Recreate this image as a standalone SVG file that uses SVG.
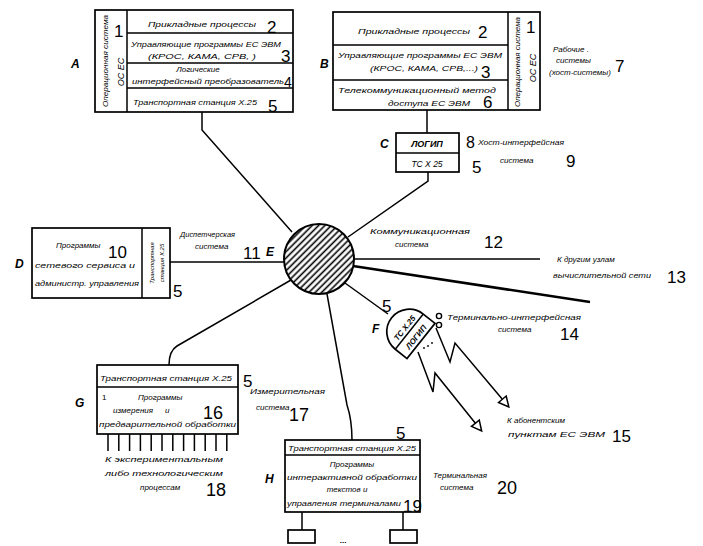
<svg xmlns="http://www.w3.org/2000/svg" width="703" height="546" viewBox="0 0 703 546">
<style>
.t{font-family:"Liberation Sans","DejaVu Sans",sans-serif;font-style:italic;font-size:8px;fill:#000}
.s{font-family:"Liberation Sans","DejaVu Sans",sans-serif;font-style:italic;font-size:7px;fill:#000}
.n{font-family:"Liberation Sans","DejaVu Sans",sans-serif;font-size:17px;fill:#000}
.L{font-family:"Liberation Sans","DejaVu Sans",sans-serif;font-style:italic;font-weight:bold;font-size:12px;fill:#000}
.box{fill:#fff;stroke:#000;stroke-width:1.7}
.ln{fill:none;stroke:#000;stroke-width:1.5}
.m{text-anchor:middle}
</style>
<defs>
<pattern id="hatch" width="4.5" height="4.5" patternUnits="userSpaceOnUse" patternTransform="rotate(-45)">
<rect width="4.5" height="4.5" fill="#fff"/>
<line x1="0" y1="2.2" x2="4.5" y2="2.2" stroke="#000" stroke-width="1.6"/>
</pattern>
<marker id="tri" viewBox="0 0 14 14" refX="3" refY="7" markerWidth="14" markerHeight="14" markerUnits="userSpaceOnUse" orient="auto">
<path d="M2,2 L12,7 L2,12 Z" fill="#fff" stroke="#000" stroke-width="1.5"/>
</marker>
</defs>
<rect width="703" height="546" fill="#fff"/>

<g id="connectors" class="ln">
<path d="M202,112 L202,130 L292,232"/>
<path d="M427,110 L427,133"/>
<path d="M428,172 L428,181 L348,237"/>
<path d="M170,262 L284,262"/>
<path d="M354,259 L540,259"/>
<path d="M353,266 L590,302" stroke-width="2.6"/>
<path d="M345,283 L388,314"/>
<path d="M291,280 L177,346 Q169,351 169,365"/>
<path d="M327,294 L347,405 Q352,420 352,440"/>
<path d="M436,328 L450,362 L455,343 L503,400" marker-end="url(#tri)"/>
<path d="M418,352 L433,392 L435,373 L476,424" marker-end="url(#tri)"/>
</g>

<g id="nodeA">
<rect class="box" x="95" y="10" width="198" height="102"/>
<path class="ln" d="M127,10 V112 M127,33 H293 M127,63 H293 M127,88 H293"/>
<text class="t" x="148" y="27" textLength="108" lengthAdjust="spacingAndGlyphs">Прикладные процессы</text>
<text class="n" x="267" y="33">2</text>
<text class="t" x="131" y="47" textLength="150" lengthAdjust="spacingAndGlyphs">Управляющие программы ЕС ЭВМ</text>
<text class="t" x="148" y="59" textLength="108" lengthAdjust="spacingAndGlyphs">(КРОС, КАМА, СРВ,  )</text>
<text class="n" x="281" y="62">3</text>
<text class="t m" x="198" y="72">Логические</text>
<text class="t" x="132" y="84" textLength="152" lengthAdjust="spacingAndGlyphs">интерфейсный преобразователь</text>
<text class="n" x="284" y="87" style="font-size:14px">4</text>
<text class="t" x="133" y="105" textLength="124" lengthAdjust="spacingAndGlyphs">Транспортная станция Х.25</text>
<text class="n" x="268" y="112">5</text>
<text class="s m" transform="translate(108,61) rotate(-90)" textLength="92" lengthAdjust="spacingAndGlyphs">Операционная система</text>
<text class="t m" transform="translate(124,72) rotate(-90)" style="font-size:9px">ОС ЕС</text>
<text class="n" x="114" y="37">1</text>
<text class="L" x="71" y="68">A</text>
</g>

<g id="nodeB">
<rect class="box" x="333" y="12" width="207" height="98"/>
<path class="ln" d="M508,12 V110 M333,45 H508 M333,80 H508"/>
<text class="t" x="358" y="34" textLength="112" lengthAdjust="spacingAndGlyphs">Прикладные процессы</text>
<text class="n" x="478" y="38">2</text>
<text class="t" x="338" y="58" textLength="164" lengthAdjust="spacingAndGlyphs">Управляющие программы ЕС ЭВМ</text>
<text class="t" x="370" y="71" textLength="108" lengthAdjust="spacingAndGlyphs">(КРОС, КАМА, СРВ,...)</text>
<text class="n" x="481" y="78">3</text>
<text class="t" x="338" y="93" textLength="158" lengthAdjust="spacingAndGlyphs">Телекоммуникационный метод</text>
<text class="t" x="388" y="106" textLength="82" lengthAdjust="spacingAndGlyphs">доступа ЕС ЭВМ</text>
<text class="n" x="483" y="108">6</text>
<text class="s m" transform="translate(520,62) rotate(-90)" textLength="90" lengthAdjust="spacingAndGlyphs">Операционная система</text>
<text class="t m" transform="translate(536,68) rotate(-90)" style="font-size:9px">ОС ЕС</text>
<text class="n" x="526" y="33">1</text>
<text class="L" x="320" y="68">B</text>
<text class="t" x="553" y="52">Рабочие .</text>
<text class="t" x="556" y="63">системы</text>
<text class="t" x="549" y="75">(хост-системы)</text>
<text class="n" x="615" y="72">7</text>
</g>

<g id="nodeC">
<rect class="box" x="396" y="133" width="63" height="39"/>
<path class="ln" d="M396,153 H459"/>
<text class="t m" x="427" y="147" style="font-size:9px;font-weight:bold">ЛОГИП</text>
<text class="t m" x="427" y="167" style="font-size:8.5px">ТС Х 25</text>
<text class="L" x="380" y="148">C</text>
<text class="n" x="466" y="148" style="font-size:16px">8</text>
<text class="t" x="478" y="145" textLength="86" lengthAdjust="spacingAndGlyphs">Хост-интерфейсная</text>
<text class="t" x="500" y="163">система</text>
<text class="n" x="566" y="167">9</text>
<text class="n" x="472" y="173">5</text>
</g>

<g id="nodeD">
<rect class="box" x="32" y="228" width="138" height="70"/>
<path class="ln" d="M142,228 V298"/>
<text class="t" x="56" y="248">Программы</text>
<text class="n" x="108" y="258">10</text>
<text class="t" x="35" y="268" textLength="100" lengthAdjust="spacingAndGlyphs">сетевого сервиса и</text>
<text class="t" x="35" y="286" textLength="104" lengthAdjust="spacingAndGlyphs">администр. управления</text>
<text class="s m" transform="translate(154,263) rotate(-90)" style="font-size:6px">Транспортная</text>
<text class="s m" transform="translate(164,263) rotate(-90)" style="font-size:6px">станция Х.25</text>
<text class="n" x="173" y="297">5</text>
<text class="L" x="15" y="268">D</text>
<text class="t" x="180" y="237" textLength="55" lengthAdjust="spacingAndGlyphs">Диспетчерская</text>
<text class="t" x="195" y="249">система</text>
<text class="n" x="243" y="259">11</text>
</g>

<g id="nodeE">
<circle cx="319" cy="259" r="35" fill="url(#hatch)" stroke="#000" stroke-width="2"/>
<text class="L" x="266" y="256">E</text>
<text class="t" x="370" y="234" textLength="100" lengthAdjust="spacingAndGlyphs">Коммуникационная</text>
<text class="t" x="395" y="247">система</text>
<text class="n" x="484" y="248">12</text>
</g>

<g id="labelNet">
<text class="t" x="557" y="262">К другим узлам</text>
<text class="t" x="553" y="278" textLength="98" lengthAdjust="spacingAndGlyphs">вычислительной сети</text>
<text class="n" x="667" y="283">13</text>
</g>

<g id="nodeF">
<g transform="translate(421,341) rotate(38.5)">
<path class="box" d="M0,-22.5 L-15,-22.5 A22.5,22.5 0 0 0 -15,22.5 L0,22.5 Z"/>
<path class="ln" d="M-15,-22.5 V22.5"/>
<text class="t m" transform="translate(-3.5,0) rotate(-90)" style="font-weight:bold">ЛОГИП</text>
<text class="t m" transform="translate(-18,0) rotate(-90)" style="font-weight:bold">ТС Х.25</text>
</g>
<circle cx="439" cy="316" r="2.6" fill="#fff" stroke="#000" stroke-width="1.4"/>
<circle cx="439" cy="325" r="2.6" fill="#fff" stroke="#000" stroke-width="1.4"/>
<circle cx="424" cy="348" r="0.9"/>
<circle cx="428" cy="346" r="0.9"/>
<circle cx="432" cy="343" r="0.9"/>
<text class="L" x="372" y="333">F</text>
<text class="n" x="382" y="312">5</text>
<text class="t" x="447" y="320" textLength="134" lengthAdjust="spacingAndGlyphs">Терминально-интерфейсная</text>
<text class="t" x="498" y="332">система</text>
<text class="n" x="560" y="340">14</text>
<text class="t" x="507" y="423">К абонентским</text>
<text class="t" x="508" y="437" textLength="97" lengthAdjust="spacingAndGlyphs">пунктам ЕС ЭВМ</text>
<text class="n" x="612" y="442">15</text>
</g>

<g id="nodeG">
<rect class="box" x="97" y="365" width="141" height="69"/>
<path class="ln" d="M97,387 H238"/>
<path class="ln" stroke-width="1.8" d="M108,434 V451 M118.8,434 V451 M129.6,434 V451 M140.4,434 V451 M151.2,434 V451 M162,434 V451 M172.8,434 V451 M183.6,434 V451 M194.4,434 V451 M205.2,434 V451 M216,434 V451 M226.8,434 V451"/>
<text class="s" x="100" y="381" textLength="132" lengthAdjust="spacingAndGlyphs">Транспортная станция Х.25</text>
<text class="t" x="102" y="400" style="font-style:normal">1</text>
<text class="t" x="138" y="400">Программы</text>
<text class="t" x="113" y="413">измерения</text>
<text class="t" x="165" y="413">и</text>
<text class="n" x="203" y="419" style="font-size:18px">16</text>
<text class="t" x="99" y="427" textLength="137" lengthAdjust="spacingAndGlyphs">предварительной обработки</text>
<text class="n" x="243" y="387">5</text>
<text class="L" x="75" y="407">G</text>
<text class="t" x="250" y="394" textLength="75" lengthAdjust="spacingAndGlyphs">Измерительная</text>
<text class="t" x="256" y="410">система</text>
<text class="n" x="289" y="421" style="font-size:18px">17</text>
<text class="t" x="105" y="462" textLength="118" lengthAdjust="spacingAndGlyphs">К экспериментальным</text>
<text class="t" x="105" y="476" textLength="118" lengthAdjust="spacingAndGlyphs">либо технологическим</text>
<text class="t" x="140" y="490">процессам</text>
<text class="n" x="206" y="496" style="font-size:18px">18</text>
</g>

<g id="nodeH">
<rect class="box" x="285" y="440" width="135" height="72"/>
<path class="ln" d="M285,455 H420 M302,512 V530 M403,512 V530"/>
<rect class="box" x="288" y="530" width="27" height="13"/>
<rect class="box" x="390" y="530" width="27" height="13"/>
<text class="t" x="340" y="543" style="font-weight:bold">...</text>
<text class="s" x="288" y="451" textLength="128" lengthAdjust="spacingAndGlyphs">Транспортная станция Х.25</text>
<text class="t m" x="352" y="467">Программы</text>
<text class="t" x="287" y="480" textLength="130" lengthAdjust="spacingAndGlyphs">интерактивной обработки</text>
<text class="t m" x="347" y="492">текстов и</text>
<text class="t" x="287" y="506" textLength="114" lengthAdjust="spacingAndGlyphs">управления терминалами</text>
<text class="n" x="403" y="512">19</text>
<text class="n" x="396" y="439">5</text>
<text class="L" x="265" y="483">H</text>
<text class="t" x="433" y="478">Терминальная</text>
<text class="t" x="440" y="490">система</text>
<text class="n" x="497" y="494" style="font-size:18px">20</text>
</g>
</svg>
